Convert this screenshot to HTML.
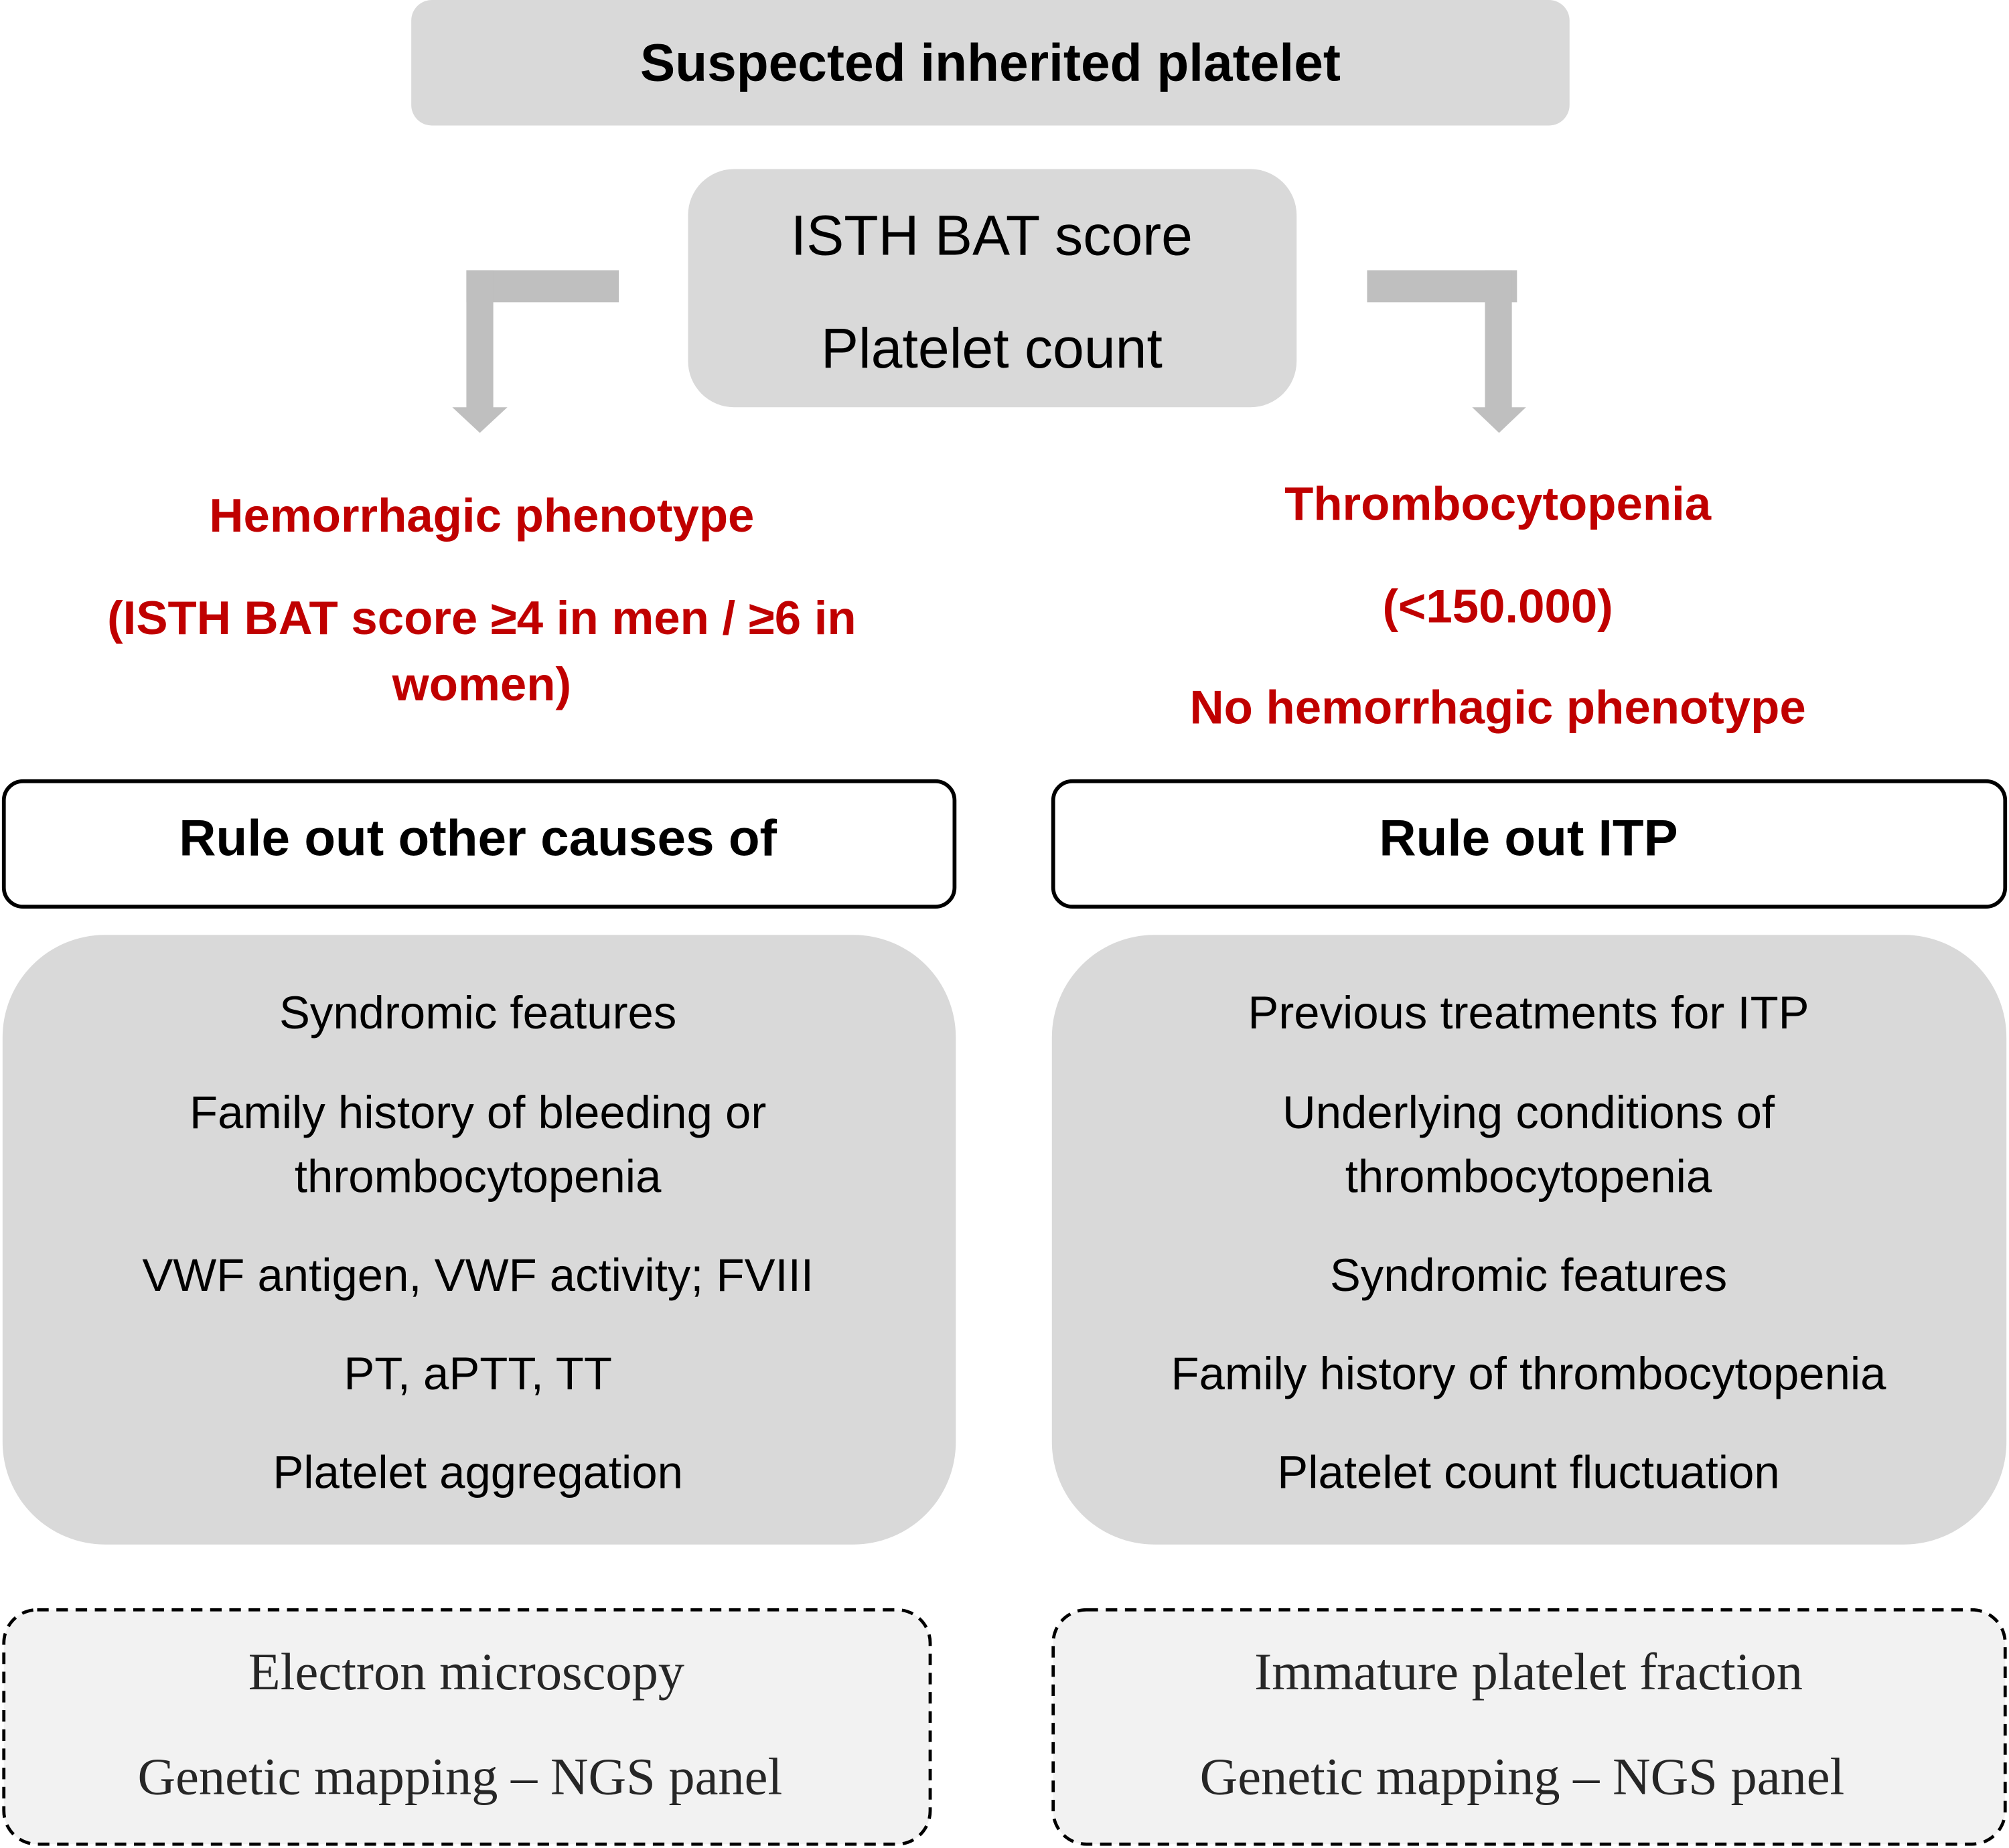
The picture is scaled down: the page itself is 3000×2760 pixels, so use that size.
<!DOCTYPE html>
<html><head><meta charset="utf-8"><style>
html,body{margin:0;padding:0;background:#fff;}
svg{display:block;}
.s{font-family:"Liberation Sans",Arial,sans-serif;}
.r{font-family:"Liberation Serif","DejaVu Serif",serif;}
</style></head><body>
<svg width="3000" height="2760" viewBox="0 0 1568 1443" preserveAspectRatio="none" xmlns="http://www.w3.org/2000/svg">
<rect x="321" y="0" width="904" height="98" rx="16" fill="#d9d9d9"/>
<text x="773" y="63" text-anchor="middle" class="s" font-weight="bold" font-size="41">Suspected inherited platelet</text>
<rect x="537" y="132" width="475" height="186" rx="36" fill="#d9d9d9"/>
<text x="774" y="199" text-anchor="middle" class="s" font-size="44">ISTH BAT score</text>
<text x="774" y="287" text-anchor="middle" class="s" font-size="44">Platelet count</text>
<g fill="#bfbfbf">
<rect x="364" y="211" width="119" height="25"/>
<rect x="364" y="211" width="21" height="108"/>
<polygon points="353,318 396,318 374.5,338"/>
<rect x="1067" y="211" width="117" height="25"/>
<rect x="1159" y="211" width="21" height="108"/>
<polygon points="1149,318 1191,318 1170,338"/>
</g>
<g class="s" font-weight="bold" font-size="37" fill="#c00000" text-anchor="middle">
<text x="376" y="415">Hemorrhagic phenotype</text>
<text x="376" y="495">(ISTH BAT score ≥4 in men / ≥6 in</text>
<text x="376" y="547">women)</text>
<text x="1169" y="406">Thrombocytopenia</text>
<text x="1169" y="486">(&lt;150.000)</text>
<text x="1169" y="565">No hemorrhagic phenotype</text>
</g>
<rect x="3" y="610" width="742" height="98" rx="15" fill="#fff" stroke="#000" stroke-width="3"/>
<rect x="822" y="610" width="743" height="98" rx="15" fill="#fff" stroke="#000" stroke-width="3"/>
<text x="373" y="668" text-anchor="middle" class="s" font-weight="bold" font-size="40">Rule out other causes of</text>
<text x="1193" y="668" text-anchor="middle" class="s" font-weight="bold" font-size="40">Rule out ITP</text>
<rect x="2" y="730" width="744" height="476" rx="80" fill="#d9d9d9"/>
<rect x="821" y="730" width="745" height="476" rx="80" fill="#d9d9d9"/>
<g class="s" font-size="36" text-anchor="middle" fill="#000">
<text x="373" y="803">Syndromic features</text>
<text x="373" y="881">Family history of bleeding or</text>
<text x="373" y="931">thrombocytopenia</text>
<text x="373" y="1008">VWF antigen, VWF activity; FVIII</text>
<text x="373" y="1085">PT, aPTT, TT</text>
<text x="373" y="1162">Platelet aggregation</text>
<text x="1193" y="803">Previous treatments for ITP</text>
<text x="1193" y="881">Underlying conditions of</text>
<text x="1193" y="931">thrombocytopenia</text>
<text x="1193" y="1008">Syndromic features</text>
<text x="1193" y="1085">Family history of thrombocytopenia</text>
<text x="1193" y="1162">Platelet count fluctuation</text>
</g>
<rect x="3" y="1257" width="723" height="183" rx="26" fill="#f2f2f2" stroke="#000" stroke-width="2.5" stroke-dasharray="9,6"/>
<rect x="822" y="1257" width="743" height="183" rx="26" fill="#f2f2f2" stroke="#000" stroke-width="2.5" stroke-dasharray="9,6"/>
<g class="r" font-size="41" text-anchor="middle" fill="#262626">
<text x="364" y="1319">Electron microscopy</text>
<text x="359" y="1401">Genetic mapping – NGS panel</text>
<text x="1193" y="1319">Immature platelet fraction</text>
<text x="1188" y="1401">Genetic mapping – NGS panel</text>
</g>
</svg>
</body></html>
